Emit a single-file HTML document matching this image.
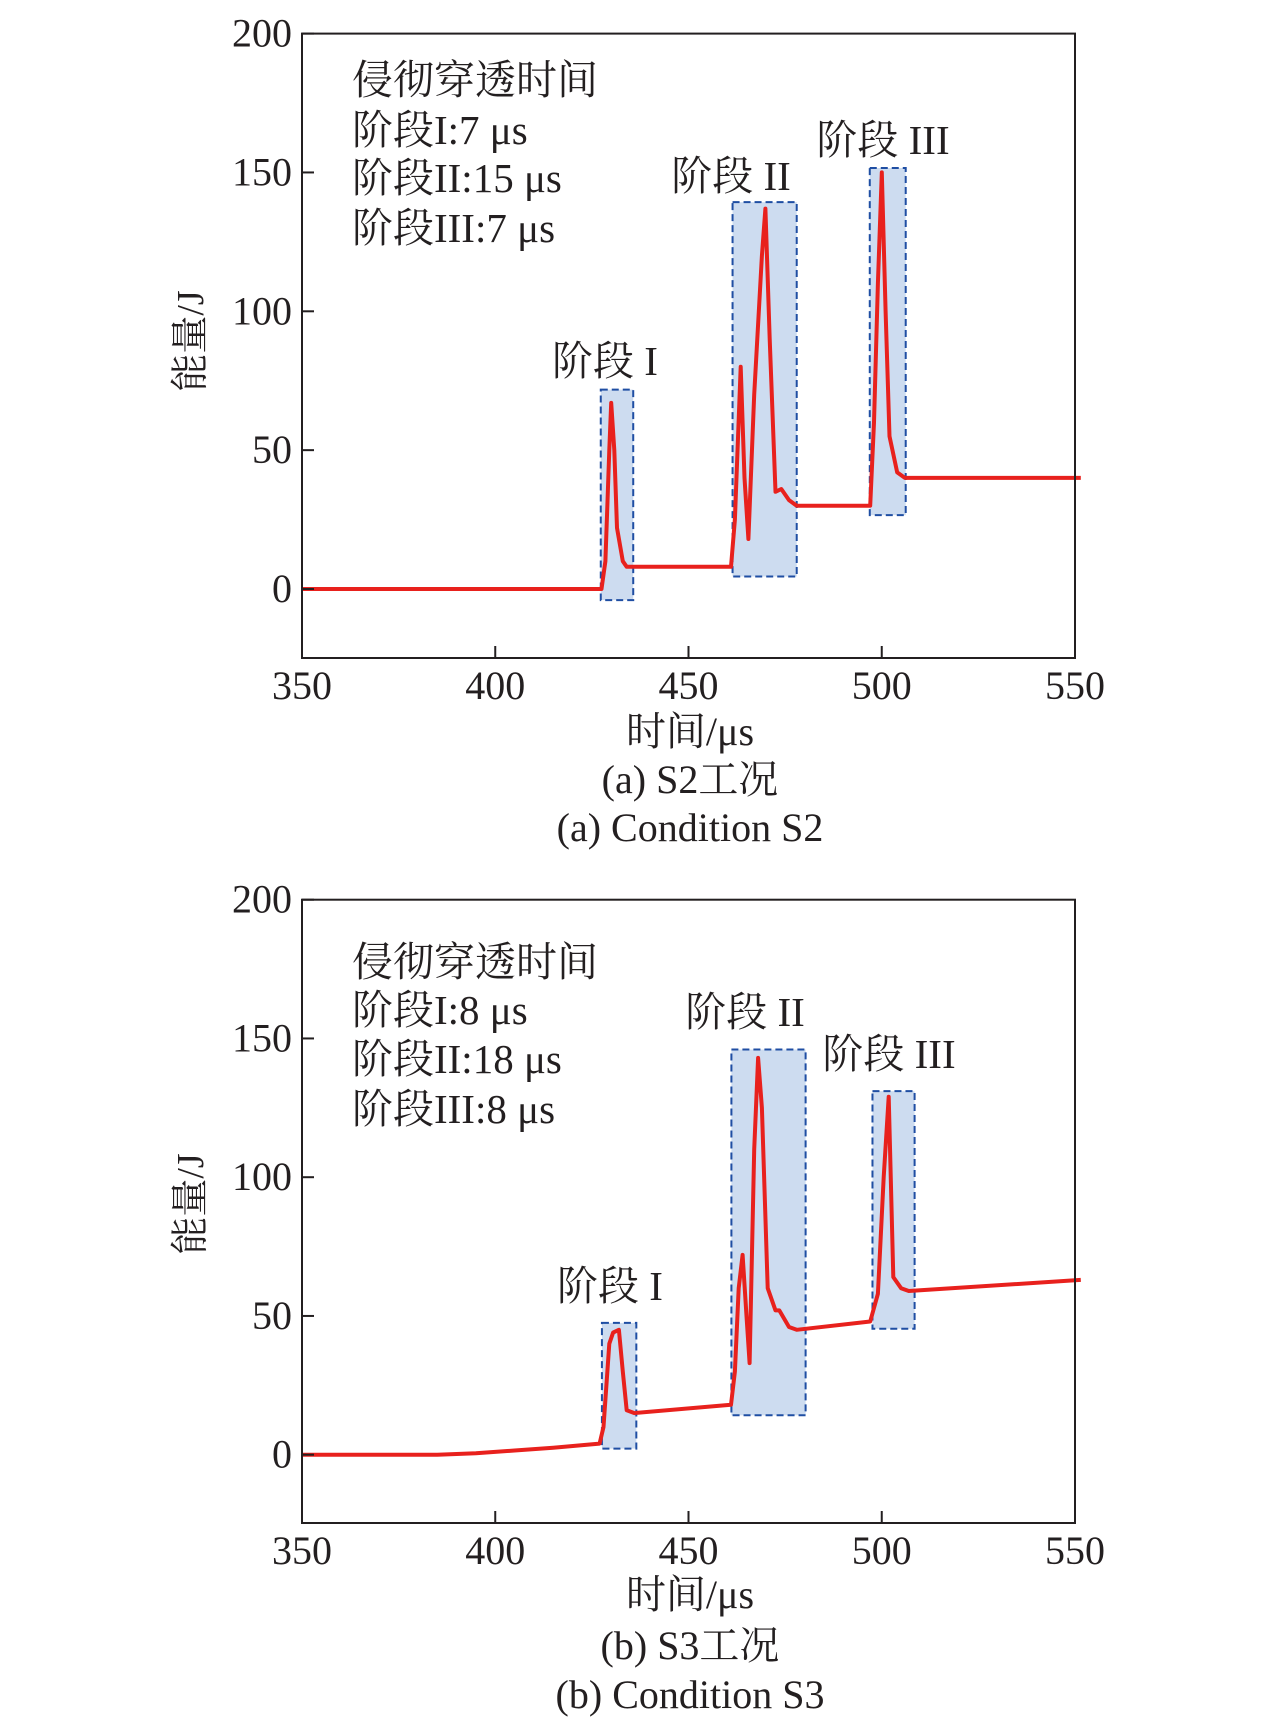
<!DOCTYPE html>
<html><head><meta charset="utf-8">
<style>
body{margin:0;background:#fff;}
svg text{font-family:"Liberation Serif","Noto Serif CJK SC",serif;fill:#231f20;}
</style></head>
<body>
<svg id="svg" width="1276" height="1731" viewBox="0 0 1276 1731" xmlns="http://www.w3.org/2000/svg"></svg>
<script>
// Panel (a) S2 data
const a_x = [350,427.5,428.5,429.5,430,430.8,431.5,433,434,461,462,463.5,464.5,465.5,467,469,469.9,471,472.5,474,476,478,485,490,497,498,499,500,501,502,504,506,520,551.5];
const a_y = [0,0,10,50,67,50,22,10,8,8,25,80,40,18,70,120,137,90,35,36,32,30,30,30,30,60,110,150,100,55,42,40,40,40];
const a_boxes = [[427.3,435.7,-4,71.8],[461.4,478,4.5,139.3],[496.9,506.2,26.6,151.6]];
const a_notes = ["侵彻穿透时间","阶段I:7 μs","阶段II:15 μs","阶段III:7 μs"];
// Panel (b) S3 data
const b_x = [350,385,395,405,415,427,428,429.5,430.5,432,433,434,436,461,462,463,464,465,465.8,467,468,469,470.5,472.5,473.5,476,478,497,499,500.5,501.8,503,505,507,551.5];
const b_y = [0,0,0.5,1.5,2.5,4,10,40,44,45,30,16,15,18,30,60,72,50,33,110,143,125,60,52,52,46,45,48,58,100,129,64,60,59,63];
const b_boxes = [[427.6,436.5,2.2,47.5],[461.1,480.3,14.2,146],[497.6,508.5,45.4,131]];
const b_notes = ["侵彻穿透时间","阶段I:8 μs","阶段II:18 μs","阶段III:8 μs"];
const xTicks = [350,400,450,500,550];
const yTicks = [0,50,100,150,200];
const stageNames = ["阶段 I","阶段 II","阶段 III"];

const NS="http://www.w3.org/2000/svg";
const svg=document.getElementById('svg');
function mk(tag,attrs,parent,name,text){
  const e=document.createElementNS(NS,tag);
  for(const k in attrs)e.setAttribute(k,attrs[k]);
  
  
  if(text!==undefined)e.textContent=text;
  (parent||svg).appendChild(e);return e;
}
function panel(cfg){
  const L=302,R=1075,T=cfg.top,B=cfg.bottom,y0px=cfg.zero;
  const sx=v=>L+(v-350)*(R-L)/200;
  const sy=v=>y0px-(v)*(y0px-T)/200;
  const g=mk('g',{},svg,cfg.id);
  cfg.boxes.forEach((b,i)=>{
    mk('rect',{x:sx(b[0]),y:sy(b[3]),width:sx(b[1])-sx(b[0]),height:sy(b[2])-sy(b[3]),fill:'#cddcf0',stroke:'#1f4ea3','stroke-width':2,'stroke-dasharray':'7,4'},g,'stage-box-'+(i+1));
  });
  let d='';
  cfg.xs.forEach((x,i)=>{d+=(i?'L':'M')+sx(x).toFixed(1)+','+sy(cfg.ys[i]).toFixed(1);});
  mk('path',{d:d,fill:'none',stroke:'#e8211d','stroke-width':4,'stroke-linejoin':'round'},g,'energy-line');
  mk('rect',{x:L,y:T,width:R-L,height:B-T,fill:'none',stroke:'#231f20','stroke-width':2},g,'plot-frame');
  xTicks.forEach(t=>{
    mk('line',{x1:sx(t),x2:sx(t),y1:B,y2:B-12,stroke:'#231f20','stroke-width':2},g,'x-tick');
    mk('text',{x:sx(t),y:B+41,'font-size':40,'text-anchor':'middle'},g,'x-tick-label',String(t));
  });
  yTicks.forEach(t=>{
    mk('line',{x1:L,x2:L+12,y1:sy(t),y2:sy(t),stroke:'#231f20','stroke-width':2},g,'y-tick');
    mk('text',{x:L-10,y:sy(t)+13,'font-size':40,'text-anchor':'end'},g,'y-tick-label',String(t));
  });
  cfg.notes.forEach((n,i)=>{
    mk('text',{x:352,y:cfg.noteY[i]+14,'font-size':41},g,'penetration-note',n);
  });
  cfg.labels.forEach((p,i)=>{
    mk('text',{x:p[0],y:p[1]+14,'font-size':41,'text-anchor':'middle'},g,'stage-label-'+(i+1),stageNames[i]);
  });
  mk('text',{x:0,y:0,'font-size':38,'text-anchor':'middle',transform:'translate(203,'+cfg.ylabY+') rotate(-90)'},g,'y-axis-title','能量/J');
  mk('text',{x:690,y:cfg.capY[0]+14,'font-size':40,'text-anchor':'middle'},g,'x-axis-title','时间/μs');
  mk('text',{x:690,y:cfg.capY[1]+14,'font-size':40,'text-anchor':'middle'},g,'caption-cn',cfg.cap1);
  mk('text',{x:690,y:cfg.capY[2]+14,'font-size':40,'text-anchor':'middle'},g,'caption-en',cfg.cap2);
}
panel({id:'panel-a',top:33.6,bottom:658,zero:589,xs:a_x,ys:a_y,boxes:a_boxes,notes:a_notes,
  noteY:[80,130,178,228],labels:[[605,361],[731,176],[883,140]],ylabY:341,capY:[731,779,827],
  cap1:'(a) S2工况',cap2:'(a) Condition S2'});
panel({id:'panel-b',top:899.7,bottom:1523,zero:1454.7,xs:b_x,ys:b_y,boxes:b_boxes,notes:b_notes,
  noteY:[962,1010,1059,1109],labels:[[610,1286],[745,1012],[889,1054]],ylabY:1204,capY:[1594,1645,1694],
  cap1:'(b) S3工况',cap2:'(b) Condition S3'});
</script>
</body></html>
